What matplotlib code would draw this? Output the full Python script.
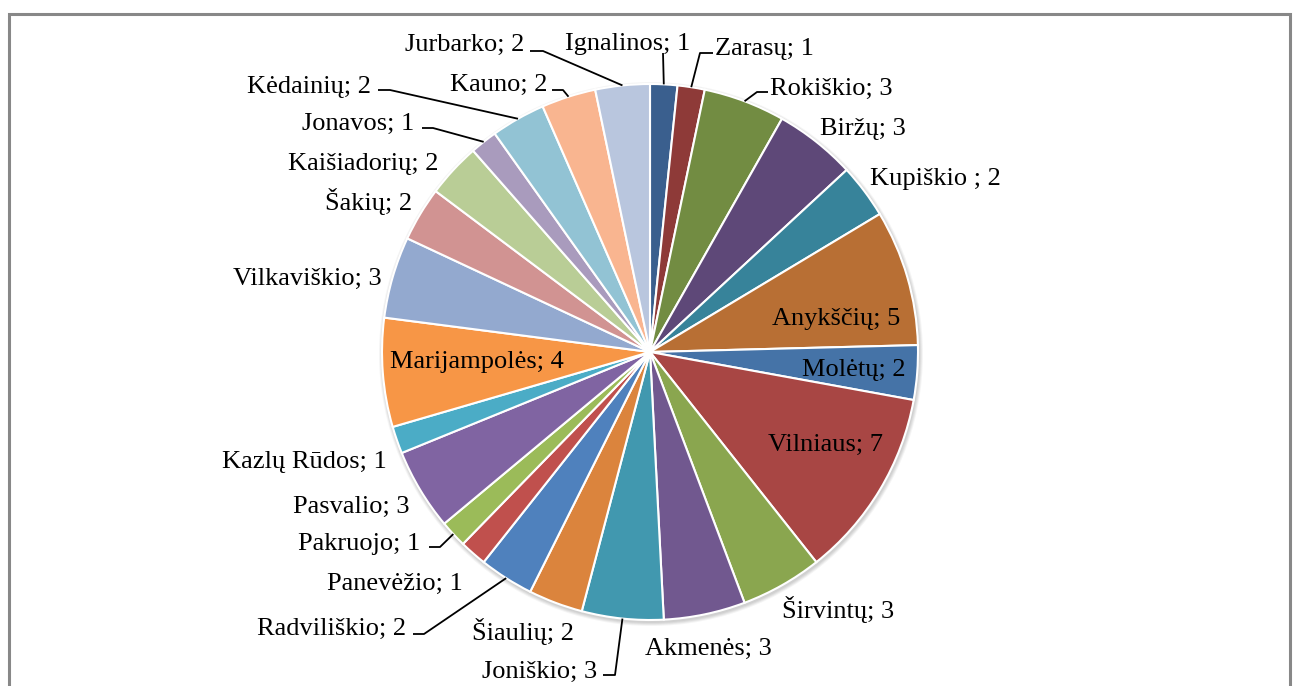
import numpy as np
import matplotlib
matplotlib.use("Agg")
import matplotlib.pyplot as plt
from matplotlib.patches import Rectangle, Circle

# ---- data ----
names = ["Ignalinos", "Zarasų", "Rokiškio", "Biržų", "Kupiškio ", "Anykščių",
         "Molėtų", "Vilniaus", "Širvintų", "Akmenės", "Joniškio", "Šiaulių",
         "Radviliškio", "Panevėžio", "Pakruojo", "Pasvalio", "Kazlų Rūdos",
         "Marijampolės", "Vilkaviškio", "Šakių", "Kaišiadorių", "Jonavos",
         "Kėdainių", "Kauno", "Jurbarko"]
values = [1, 1, 3, 3, 2, 5, 2, 7, 3, 3, 3, 2, 2, 1, 1, 3, 1, 4, 3, 2, 2, 1, 2, 2, 2]
colors = ["#3A5F8E", "#8E3A38", "#728C42", "#5E4878", "#37839A", "#B86F34",
          "#4573A7", "#A84644", "#8AA64F", "#71588F", "#4198AF", "#DB843D",
          "#4F81BD", "#C0504D", "#9BBB59", "#8064A2", "#4BACC6", "#F79646",
          "#93A9CF", "#D19392", "#B9CD96", "#A99BBD", "#92C3D4", "#F9B590",
          "#B9C6DE"]

W, H = 1295, 686
fig = plt.figure(figsize=(W / 100, H / 100), dpi=100)
ax = fig.add_axes([0, 0, 1, 1])

def Y(y):
    return H - y

cx, cy, R = 650, 352, 268

# soft shadow
for i, a in enumerate([0.05, 0.05, 0.05, 0.04]):
    ax.add_patch(Circle((cx + 1, Y(cy) - 2), R + 1 + i, facecolor="#000000",
                        alpha=a, edgecolor="none", zorder=0))

wedges, _ = ax.pie(values, colors=colors, startangle=90, counterclock=False,
                   center=(cx, Y(cy)), radius=R,
                   wedgeprops=dict(edgecolor="white", linewidth=1.5))

# label layout: (left x, baseline y in px, leader elbow points in px or None)
layout = {
    "Ignalinos": (565, 50, [(663, 53)]),
    "Zarasų": (715, 55, [(713, 53), (700, 53)]),
    "Rokiškio": (770, 95, [(768, 92), (757, 92)]),
    "Biržų": (820, 135, None),
    "Kupiškio ": (870, 185, None),
    "Anykščių": (772, 325, None),
    "Molėtų": (802, 376, None),
    "Vilniaus": (768, 451, None),
    "Širvintų": (782, 618, None),
    "Akmenės": (645, 655, None),
    "Joniškio": (482, 678, [(603, 675), (615, 675)]),
    "Šiaulių": (472, 640, None),
    "Radviliškio": (257, 635, [(413, 634), (424, 634)]),
    "Panevėžio": (327, 590, None),
    "Pakruojo": (298, 550, [(429, 547), (440, 547)]),
    "Pasvalio": (293, 513, None),
    "Kazlų Rūdos": (222, 468, None),
    "Marijampolės": (390, 368, None),
    "Vilkaviškio": (233, 285, None),
    "Šakių": (325, 210, None),
    "Kaišiadorių": (288, 170, None),
    "Jonavos": (302, 130, [(422, 128), (433, 128)]),
    "Kėdainių": (247, 93, [(378, 90), (390, 90)]),
    "Kauno": (450, 91, [(552, 90), (563, 90)]),
    "Jurbarko": (405, 51, [(530, 51), (543, 51)]),
}

font = dict(family=["Liberation Serif", "DejaVu Serif"], fontsize=19,
            color="black")

for w, name, val in zip(wedges, names, values):
    lx, by, elbow = layout[name]
    ax.text(lx, Y(by), f"{name}; {val}", ha="left", va="baseline", zorder=5,
            **font)
    if elbow:
        mid = np.deg2rad((w.theta1 + w.theta2) / 2)
        ex, ey = cx + R * np.cos(mid), Y(cy) + R * np.sin(mid)
        xs = [p[0] for p in elbow] + [ex]
        ys = [Y(p[1]) for p in elbow] + [ey]
        ax.plot(xs, ys, color="black", linewidth=1.3, zorder=4,
                solid_capstyle="butt")

# chart frame
ax.add_patch(Rectangle((8.5, Y(700)), 1281, 700 - 13.5, fill=False,
                       edgecolor="#888888", linewidth=2.2, zorder=6))

ax.set_xlim(0, W)
ax.set_ylim(0, H)
ax.set_aspect("auto")
ax.axis("off")
fig.savefig("out.png", dpi=100)
